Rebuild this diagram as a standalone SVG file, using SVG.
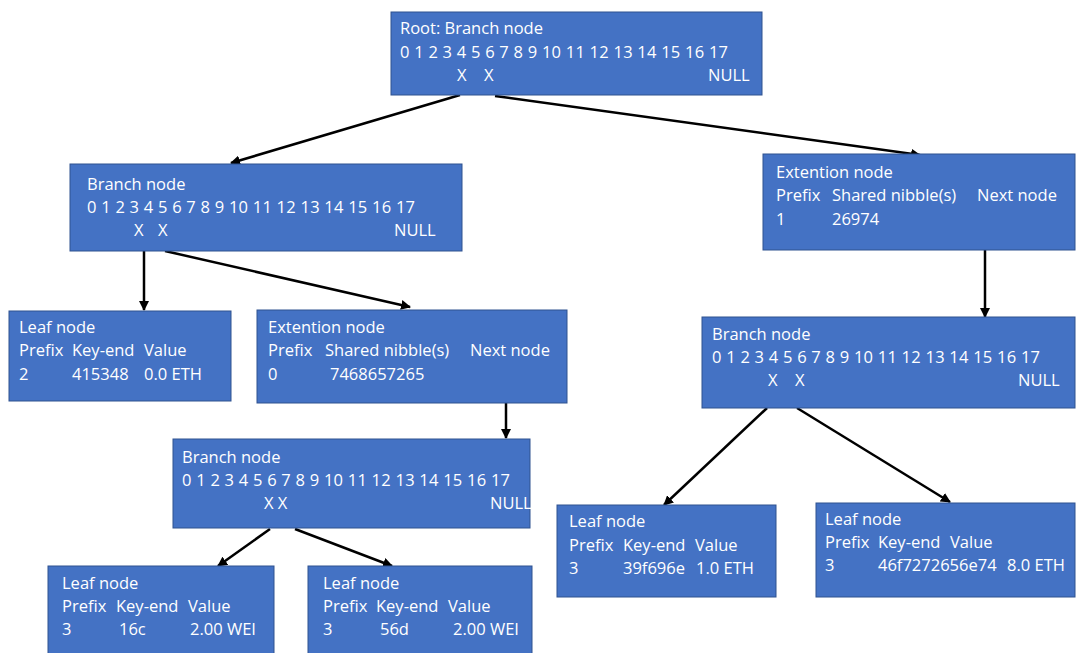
<svg xmlns="http://www.w3.org/2000/svg" width="1078" height="653" viewBox="0 0 1078 653">
  <defs>
    <marker id="arrow" viewBox="0 0 10 10" refX="9" refY="5" markerWidth="4" markerHeight="4" markerUnits="strokeWidth" orient="auto">
      <path d="M0,0 L10,5 L0,10 z" fill="#000"/>
    </marker>
    <style>
      .box { fill: #4472C4; stroke: #2F528F; stroke-width: 1; }
      .t { font-family: "Open Sans", Lato, "Liberation Sans", sans-serif; font-size: 16.5px; fill: #fff; }
      .edge { stroke: #000; stroke-width: 2.5; fill: none; marker-end: url(#arrow); }
    </style>
  </defs>
  <rect width="1078" height="653" fill="#fff"/>

  <!-- connectors -->
  <g id="connectors">
    <line class="edge" x1="460" y1="95" x2="231" y2="163"/>
    <line class="edge" x1="495" y1="96" x2="920" y2="155"/>
    <line class="edge" x1="144" y1="251" x2="144" y2="310"/>
    <line class="edge" x1="165" y1="251" x2="410" y2="307"/>
    <line class="edge" x1="985" y1="250" x2="985" y2="317"/>
    <line class="edge" x1="506" y1="403" x2="506" y2="438"/>
    <line class="edge" x1="270" y1="529" x2="218" y2="566"/>
    <line class="edge" x1="295" y1="529" x2="392" y2="566"/>
    <line class="edge" x1="767" y1="408" x2="664" y2="505"/>
    <line class="edge" x1="797" y1="408" x2="950" y2="502"/>
  </g>

  <!-- root branch node -->
  <g id="root">
    <rect class="box" x="391" y="12" width="371" height="83"/>
    <text class="t" x="400" y="34">Root: Branch node</text>
    <text class="t" x="400" y="58" textLength="328" lengthAdjust="spacing">0 1 2 3 4 5 6 7 8 9 10 11 12 13 14 15 16 17</text>
    <text class="t" x="457" y="81">X</text>
    <text class="t" x="484" y="81">X</text>
    <text class="t" x="708" y="81">NULL</text>
  </g>

  <!-- left branch node -->
  <g id="branch-left">
    <rect class="box" x="70" y="164" width="392" height="87"/>
    <text class="t" x="87" y="190">Branch node</text>
    <text class="t" x="87" y="213" textLength="328" lengthAdjust="spacing">0 1 2 3 4 5 6 7 8 9 10 11 12 13 14 15 16 17</text>
    <text class="t" x="134" y="236">X</text>
    <text class="t" x="158" y="236">X</text>
    <text class="t" x="394" y="236">NULL</text>
  </g>

  <!-- right extension node -->
  <g id="ext-right">
    <rect class="box" x="763" y="154" width="312" height="96"/>
    <text class="t" x="776" y="178">Extention node</text>
    <text class="t" x="776" y="201">Prefix</text>
    <text class="t" x="832" y="201">Shared nibble(s)</text>
    <text class="t" x="977" y="201">Next node</text>
    <text class="t" x="776" y="225">1</text>
    <text class="t" x="832" y="225">26974</text>
  </g>

  <!-- leaf under left branch -->
  <g id="leaf-a">
    <rect class="box" x="9" y="311" width="222" height="90"/>
    <text class="t" x="19" y="333">Leaf node</text>
    <text class="t" x="19" y="356">Prefix</text>
    <text class="t" x="72" y="356">Key-end</text>
    <text class="t" x="144" y="356">Value</text>
    <text class="t" x="19" y="380">2</text>
    <text class="t" x="72" y="380">415348</text>
    <text class="t" x="144" y="380">0.0 ETH</text>
  </g>

  <!-- middle extension node -->
  <g id="ext-mid">
    <rect class="box" x="257" y="310" width="310" height="93"/>
    <text class="t" x="268" y="333">Extention node</text>
    <text class="t" x="268" y="356">Prefix</text>
    <text class="t" x="325" y="356">Shared nibble(s)</text>
    <text class="t" x="470" y="356">Next node</text>
    <text class="t" x="268" y="380">0</text>
    <text class="t" x="330" y="380">7468657265</text>
  </g>

  <!-- right branch node -->
  <g id="branch-right">
    <rect class="box" x="702" y="317" width="373" height="91"/>
    <text class="t" x="712" y="340">Branch node</text>
    <text class="t" x="712" y="363" textLength="328" lengthAdjust="spacing">0 1 2 3 4 5 6 7 8 9 10 11 12 13 14 15 16 17</text>
    <text class="t" x="768" y="386">X</text>
    <text class="t" x="795" y="386">X</text>
    <text class="t" x="1018" y="386">NULL</text>
  </g>

  <!-- middle branch node -->
  <g id="branch-mid">
    <rect class="box" x="173" y="439" width="357" height="89"/>
    <text class="t" x="182" y="463">Branch node</text>
    <text class="t" x="182" y="486" textLength="328" lengthAdjust="spacing">0 1 2 3 4 5 6 7 8 9 10 11 12 13 14 15 16 17</text>
    <text class="t" x="264" y="509">X X</text>
    <text class="t" x="490" y="509">NULL</text>
  </g>

  <!-- leaves under middle branch -->
  <g id="leaf-b">
    <rect class="box" x="48" y="566" width="226" height="88"/>
    <text class="t" x="62" y="589">Leaf node</text>
    <text class="t" x="62" y="612">Prefix</text>
    <text class="t" x="116" y="612">Key-end</text>
    <text class="t" x="188" y="612">Value</text>
    <text class="t" x="62" y="635">3</text>
    <text class="t" x="119" y="635">16c</text>
    <text class="t" x="190" y="635">2.00 WEI</text>
  </g>

  <g id="leaf-c">
    <rect class="box" x="308" y="566" width="224" height="88"/>
    <text class="t" x="323" y="589">Leaf node</text>
    <text class="t" x="323" y="612">Prefix</text>
    <text class="t" x="376" y="612">Key-end</text>
    <text class="t" x="448" y="612">Value</text>
    <text class="t" x="323" y="635">3</text>
    <text class="t" x="380" y="635">56d</text>
    <text class="t" x="453" y="635">2.00 WEI</text>
  </g>

  <!-- leaves under right branch -->
  <g id="leaf-d">
    <rect class="box" x="557" y="505" width="219" height="92"/>
    <text class="t" x="569" y="527">Leaf node</text>
    <text class="t" x="569" y="551">Prefix</text>
    <text class="t" x="623" y="551">Key-end</text>
    <text class="t" x="695" y="551">Value</text>
    <text class="t" x="569" y="574">3</text>
    <text class="t" x="623" y="574">39f696e</text>
    <text class="t" x="696" y="574">1.0 ETH</text>
  </g>

  <g id="leaf-e">
    <rect class="box" x="816" y="503" width="259" height="94"/>
    <text class="t" x="825" y="525">Leaf node</text>
    <text class="t" x="825" y="548">Prefix</text>
    <text class="t" x="878" y="548">Key-end</text>
    <text class="t" x="950" y="548">Value</text>
    <text class="t" x="825" y="571">3</text>
    <text class="t" x="878" y="571">46f7272656e74</text>
    <text class="t" x="1007" y="571">8.0 ETH</text>
  </g>
</svg>
